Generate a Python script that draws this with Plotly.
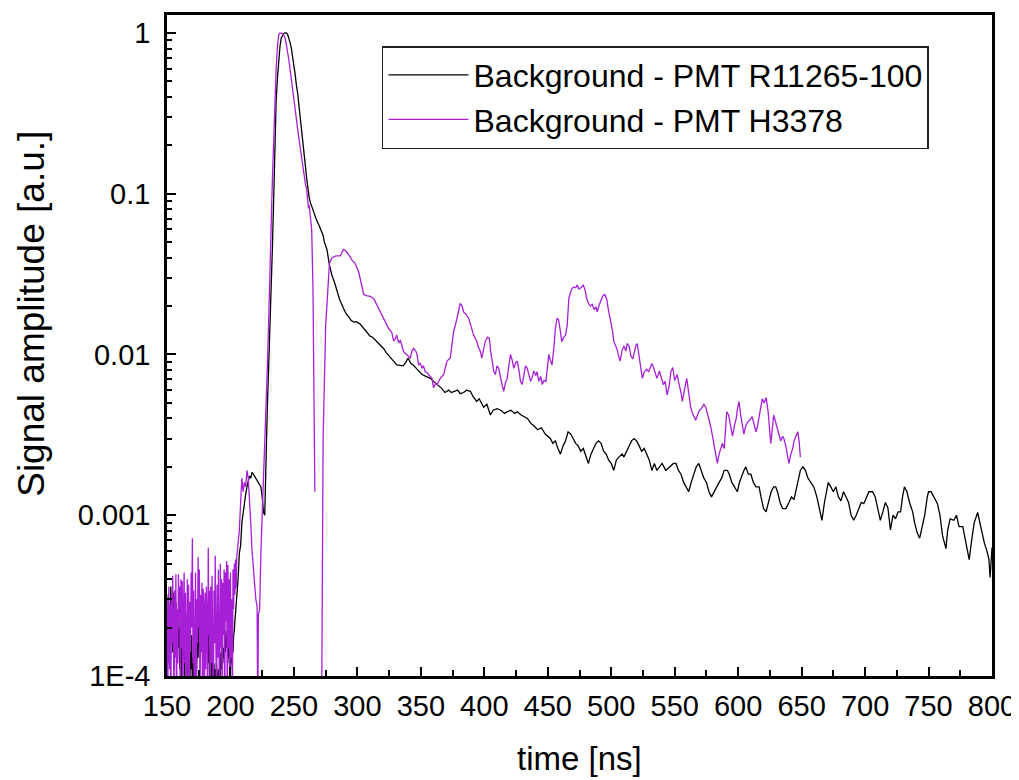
import plotly.graph_objects as go

# ---------------- data ----------------
# early, noisy part (150 - 204.5 ns) sampled every 0.5 ns
t_noise = [150, 150.5, 151, 151.5, 152, 152.5, 153, 153.5, 154, 154.5, 155, 155.5, 156, 156.5, 157, 157.5, 158, 158.5, 159, 159.5,
           160, 160.5, 161, 161.5, 162, 162.5, 163, 163.5, 164, 164.5, 165, 165.5, 166, 166.5, 167, 167.5, 168, 168.5, 169, 169.5,
           170, 170.5, 171, 171.5, 172, 172.5, 173, 173.5, 174, 174.5, 175, 175.5, 176, 176.5, 177, 177.5, 178, 178.5, 179, 179.5,
           180, 180.5, 181, 181.5, 182, 182.5, 183, 183.5, 184, 184.5, 185, 185.5, 186, 186.5, 187, 187.5, 188, 188.5, 189, 189.5,
           190, 190.5, 191, 191.5, 192, 192.5, 193, 193.5, 194, 194.5, 195, 195.5, 196, 196.5, 197, 197.5, 198, 198.5, 199, 199.5,
           200, 200.5, 201, 201.5, 202, 202.5, 203, 203.5, 204, 204.5]
a_noise_r11265 = [2.5e-4, 1.6e-4, 3.2e-4, 1.2e-4, 2.6e-4, 1.8e-4, 3.6e-4, 2.3e-4, 3.0e-4, 1.4e-4, 3.3e-4, 1.1e-4, 2.7e-4, 1.5e-4, 2.9e-4, 1.9e-4, 1.2e-4, 2.4e-4, 1.5e-4, 2.0e-4,
                  1.1e-4, 2.3e-4, 8e-5, 1.7e-4, 1.0e-4, 1.9e-4, 1.3e-4, 2.2e-4, 9e-5, 1.6e-4, 2.4e-4, 1.2e-4, 1.8e-4, 8e-5, 1.4e-4, 2.0e-4, 9e-5, 1.5e-4, 1.1e-4, 1.8e-4,
                  7e-5, 1.3e-4, 1.0e-4, 1.6e-4, 7e-5, 1.2e-4, 8e-5, 1.5e-4, 1.9e-4, 1.3e-4, 2.2e-4, 1.5e-4, 2.9e-4, 1.8e-4, 3.1e-4, 2.4e-4, 2.9e-4, 2.1e-4, 2.8e-4, 1.9e-4,
                  2.6e-4, 1.7e-4, 2.5e-4, 1.4e-4, 2.2e-4, 1.2e-4, 1.8e-4, 1.0e-4, 1.5e-4, 8e-5, 1.3e-4, 1.0e-4, 1.4e-4, 9e-5, 1.2e-4, 7e-5, 1.1e-4, 8e-5, 1.2e-4, 9e-5,
                  7e-5, 1.1e-4, 8e-5, 1.2e-4, 1.0e-4, 1.4e-4, 1.1e-4, 1.6e-4, 1.2e-4, 1.5e-4, 1.3e-4, 1.7e-4, 1.4e-4, 1.9e-4, 1.5e-4, 1.7e-4, 1.3e-4, 1.6e-4, 1.2e-4, 1.4e-4,
                  1.1e-4, 1.3e-4, 1.2e-4, 1.6e-4, 1.4e-4, 1.8e-4, 1.9e-4, 2.2e-4, 2.5e-4, 2.7e-4]
a_noise_h3378 = [3.0e-4, 5e-5, 2.2e-4, 3.6e-4, 1.1e-4, 2.8e-4, 4e-5, 3.2e-4, 1.6e-4, 4.2e-4, 2.0e-4, 6e-5, 3.4e-4, 1.3e-4, 4.3e-4, 5e-5, 2.6e-4, 1.2e-4, 4.3e-4, 2.2e-4,
                 3.6e-4, 5e-5, 4.0e-4, 1.5e-4, 3.9e-4, 4e-5, 2.7e-4, 4.4e-4, 1.2e-4, 3.3e-4, 6e-5, 2.2e-4, 4.0e-4, 1.0e-4, 3.7e-4, 5e-5, 2.9e-4, 1.4e-4, 4.4e-4, 2.0e-4,
                 7.2e-4, 1.2e-4, 3.4e-4, 5e-5, 2.4e-4, 4.4e-4, 6e-5, 3.0e-4, 1.6e-4, 5.5e-4, 2.0e-4, 4.6e-4, 5e-5, 3.2e-4, 1.4e-4, 3.8e-4, 5e-5, 3.5e-4, 2.7e-4, 5e-5,
                 3.3e-4, 1.1e-4, 3.6e-4, 2.4e-4, 5e-5, 6.3e-4, 1.8e-4, 3.4e-4, 5e-5, 3.6e-4, 1.2e-4, 4.2e-4, 2.4e-4, 5e-5, 3.4e-4, 1.6e-4, 5.6e-4, 2.0e-4, 5e-5, 3.7e-4,
                 1.3e-4, 4.6e-4, 2.6e-4, 5e-5, 5.0e-4, 1.5e-4, 4.0e-4, 5e-5, 3.8e-4, 1.8e-4, 4.6e-4, 5e-5, 4.4e-4, 2.2e-4, 5.2e-4, 5e-5, 4.9e-4, 1.5e-4, 4.0e-4, 5e-5,
                 4.4e-4, 1.3e-4, 3.0e-4, 5e-5, 4.6e-4, 2.6e-4, 5.0e-4, 3.2e-4, 5.3e-4, 3.5e-4]

# R11265-100 from 205 ns on
t_r11265 = [205, 206, 207, 208, 209,
            210, 211, 212, 213, 214, 215, 216, 217, 218, 219, 220, 221, 222, 223, 224, 225, 226, 227, 228, 229,
            230, 231, 232, 233, 234, 235, 236, 237, 238, 239, 240, 241, 242, 243, 244, 245, 246, 247, 248, 249,
            250, 251, 252, 253, 254, 255, 256, 257, 258, 259, 260, 261, 262, 263, 264, 265, 266, 267, 268, 270,
            272, 273, 274, 276, 278, 280, 282, 284, 286, 289, 291, 293, 295, 297, 299, 302, 305, 307.5, 310, 312,
            315, 318, 320.6, 323, 325, 327, 329, 331, 334, 336, 338, 340, 342, 344, 347, 349, 351, 354, 357.5, 360,
            362.8, 366, 369, 372, 374, 376, 379, 381, 383.7, 386, 389, 391, 394, 396, 399.5, 402, 404.8, 407, 410, 413,
            416, 418, 421, 424, 426, 429, 432, 434, 437, 439, 442, 445, 448, 450, 452, 454, 456, 458, 460, 462,
            464, 466, 468, 470, 472, 474, 476, 478, 480, 482, 484, 486, 488, 490, 492, 494, 496, 498, 500, 502,
            504, 506, 508.6, 510, 512, 514, 516, 518, 520, 522, 524, 526, 528, 530, 532, 534, 536, 538, 540, 543,
            546, 549, 551, 553, 555, 557, 559, 561, 563, 565, 567, 569, 571, 573, 575, 577, 579, 581, 583, 585,
            587, 589, 591.5, 593, 595, 597, 599.4, 601, 603, 604.5, 606, 608, 610, 612, 614, 616.5, 618, 620, 622, 624,
            626, 628, 629.6, 631, 633, 635, 637.6, 640, 642, 644, 646, 648, 649, 651, 653, 655, 657, 659.6, 662, 664,
            666, 668, 671, 673, 675, 677, 679, 681, 683, 685, 687, 689, 691, 693, 695, 697, 699, 701, 703, 706,
            708, 710, 712, 714, 716, 718, 720, 722, 724, 726, 728, 729.5, 731, 733, 735, 737.5, 739, 741, 743, 745,
            747, 749, 750, 752, 754, 757, 759, 761, 763.7, 765, 767, 770, 772, 774, 777, 779, 782, 784, 786, 788.7,
            790, 792, 794, 796, 797.6, 798.5, 800]
a_r11265 = [2.9e-4, 4.0e-4, 5.8e-4, 6.5e-4, 9.0e-4,
            1.05e-3, 1.2e-3, 1.35e-3, 1.5e-3, 1.6e-3, 1.75e-3, 1.7e-3, 1.85e-3, 1.8e-3, 1.75e-3, 1.7e-3, 1.65e-3, 1.6e-3, 1.55e-3, 1.5e-3, 1.3e-3, 1.05e-3, 1.0e-3, 2.5e-3, 4.5e-3,
            8e-3, 0.014, 0.02, 0.045, 0.09, 0.22, 0.38, 0.52, 0.68, 0.82, 0.93, 0.97, 0.99, 1.0, 1.0, 0.98, 0.93, 0.87, 0.8, 0.72,
            0.62, 0.55, 0.47, 0.42, 0.35, 0.3, 0.25, 0.22, 0.18, 0.15, 0.125, 0.107, 0.095, 0.088, 0.083, 0.08, 0.075, 0.072, 0.068, 0.063,
            0.058, 0.055, 0.05, 0.045, 0.036, 0.031, 0.028, 0.025, 0.022, 0.0194, 0.018, 0.0172, 0.0163, 0.0159, 0.016, 0.0155, 0.0145, 0.0138, 0.013, 0.0128,
            0.0121, 0.0113, 0.0109, 0.0102, 0.0098, 0.0095, 0.009, 0.0086, 0.0085, 0.0085, 0.0089, 0.0095, 0.0088, 0.0086, 0.0081, 0.0078, 0.0075, 0.0073, 0.0071, 0.0068,
            0.0065, 0.0062, 0.0058, 0.006, 0.0058, 0.0059, 0.006, 0.0057, 0.0058, 0.006, 0.0059, 0.0055, 0.0051, 0.0053, 0.0047, 0.0049, 0.0042, 0.0045, 0.0046, 0.0045,
            0.0043, 0.0044, 0.0045, 0.0043, 0.0044, 0.0042, 0.0041, 0.004, 0.0037, 0.0036, 0.0034, 0.0035, 0.0032, 0.0031, 0.003, 0.0028, 0.0029, 0.0026, 0.0024, 0.0027,
            0.0029, 0.0033, 0.0032, 0.003, 0.0028, 0.0027, 0.0025, 0.0026, 0.0023, 0.0021, 0.0024, 0.0026, 0.0028, 0.0029, 0.0028, 0.0025, 0.0024, 0.0022, 0.0021, 0.0019,
            0.0022, 0.0023, 0.0024, 0.0023, 0.0025, 0.0027, 0.0029, 0.003, 0.0029, 0.0027, 0.0025, 0.0026, 0.0024, 0.0022, 0.0019, 0.0021, 0.0019, 0.002, 0.0021, 0.0019,
            0.002, 0.0021, 0.0021, 0.0019, 0.0018, 0.0016, 0.0015, 0.0014, 0.0016, 0.0018, 0.002, 0.0021, 0.0019, 0.0017, 0.0016, 0.0014, 0.0013, 0.0014, 0.0015, 0.0016,
            0.0017, 0.0019, 0.0019, 0.0018, 0.0016, 0.0015, 0.0014, 0.0016, 0.0018, 0.0019, 0.002, 0.0018, 0.0018, 0.0016, 0.0015, 0.0015, 0.0013, 0.0011, 0.00105, 0.0012,
            0.0014, 0.0015, 0.0015, 0.0014, 0.0012, 0.0011, 0.0011, 0.0012, 0.0013, 0.00125, 0.0015, 0.0018, 0.0019, 0.002, 0.0019, 0.0017, 0.0016, 0.0015, 0.0013, 0.0011,
            0.00093, 0.0012, 0.0016, 0.0015, 0.0014, 0.0015, 0.0013, 0.00123, 0.0014, 0.0013, 0.0012, 0.001, 0.00093, 0.001, 0.0011, 0.0012, 0.00118, 0.0013, 0.0014, 0.0014,
            0.0013, 0.0011, 0.00093, 0.00105, 0.0012, 0.00111, 0.00081, 0.001, 0.00095, 0.00105, 0.00105, 0.0013, 0.0015, 0.0014, 0.0012, 0.00105, 0.0009, 0.00078, 0.00072, 0.00085,
            0.001, 0.0013, 0.0014, 0.0014, 0.0013, 0.00118, 0.001, 0.00075, 0.00062, 0.0008, 0.00095, 0.00093, 0.001, 0.00085, 0.00085, 0.0007, 0.00053, 0.0007, 0.0009, 0.00104,
            0.00093, 0.0008, 0.00067, 0.0006, 0.00053, 0.00041, 0.00063]

# H3378 from 205 ns on (None = no positive sample, gap on the log axis)
t_h3378 = [205, 206, 207, 208, 209, 210, 211, 212, 213, 214, 215, 216, 217, 218, 219, 220, 221, 221.5, 222,
           223, 224, 225, 226, 227, 228, 229, 230, 231, 232, 233, 234, 235, 236, 237, 238, 239, 240, 241, 242,
           243, 244, 245, 246, 247, 248, 249, 250, 251, 252, 253, 254, 255, 256, 257, 258, 259, 260, 261, 261.5,
           262, 263, 264, 265, 266.5, 267, 271.8, 273, 275, 276.5, 278, 280, 283, 286.5, 289, 291, 293, 295.7, 298, 301,
           303.6, 305, 307, 310, 312.8, 314.5, 316.7, 318.5, 320.6, 322.5, 324.6, 327, 328.6, 330, 331, 332.5, 333.8, 336.4, 339, 340.5,
           341.7, 343, 344.3, 346, 347, 348.2, 349.5, 351, 352, 353.5, 355, 356, 357.5, 358.8, 360, 361.5, 362.8, 364, 365.3, 368,
           369.5, 370.6, 373.2, 375.8, 378.5, 380, 381, 382.5, 383.7, 385.5, 387.6, 389.5, 391.6, 393, 394, 395.5, 397, 398, 399.5, 400.8,
           402.5, 404, 405, 406, 407.5, 408.7, 410, 411.3, 412.5, 414, 415.3, 416.5, 418, 419.5, 420.6, 422, 423.2, 424.5, 426, 427.5,
           428.5, 429.8, 431, 432.5, 433.8, 435, 436.5, 437.7, 439, 440.5, 441.6, 443, 444.5, 445.6, 447, 448.5, 449.5, 450.8, 452, 453.4,
           455, 456, 457.3, 458.5, 460, 461, 462.5, 464, 465.3, 466.6, 468, 469.2, 470.5, 472, 473.2, 474.5, 476, 478, 479.5, 480.5,
           482, 483.5, 485, 486.5, 488, 489, 490.5, 492, 493.5, 495, 496.5, 497.5, 498.5, 499.5, 501, 502, 503.4, 504.5, 506, 507,
           508.5, 510, 511.5, 512.6, 514, 515.5, 517, 518.5, 519.5, 520.5, 522, 523, 524.5, 526, 528, 529.5, 531, 532, 533.5, 535,
           536, 538, 539.5, 541, 542.5, 544, 545.5, 547, 548.5, 550, 551, 552, 553.5, 555, 556, 557.5, 558.5, 559.5, 561, 562.6,
           564, 565, 566.5, 568, 569.5, 571, 573, 574.5, 576, 577.5, 578.6, 580, 581.5, 582.5, 583.6, 585, 586, 587.5, 589, 590,
           591, 592.5, 594, 595.5, 597, 598.5, 599.5, 600.7, 602, 603.5, 604.5, 606, 607.5, 609, 611, 612.5, 614, 615, 616.5, 618,
           619, 620.5, 622, 623.5, 624.5, 625.7, 627, 628, 629.5, 631, 632, 633.5, 635, 636, 637.5, 638.5, 640, 641.5, 643, 644,
           645.5, 647, 648, 649]
a_h3378 = [5.6e-4, 6.5e-4, 8e-4, 1.2e-3, 1.7e-3, 1.4e-3, 1.6e-3, 1.5e-3, 1.9e-3, 1.7e-3, 1.3e-3, 9e-4, 6e-4, 4.5e-4, 3.7e-4, 3.0e-4, 2.7e-4, 5e-5, 2.4e-4,
           2.6e-4, 6e-4, 9.7e-4, 2.0e-3, 3.2e-3, 4.5e-3, 8e-3, 0.015, 0.026, 0.06, 0.12, 0.2, 0.4, 0.6, 0.82, 0.97, 1.0, 1.0, 0.99, 0.97,
           0.93, 0.85, 0.77, 0.68, 0.59, 0.52, 0.45, 0.39, 0.335, 0.29, 0.25, 0.22, 0.19, 0.16, 0.14, 0.125, 0.115, 0.107, 0.09, 0.081,
           0.085, 0.074, 0.06, 0.026, 0.0014, None, 5e-5, 0.003, 0.015, 0.025, 0.037, 0.04, 0.041, 0.041, 0.045, 0.044, 0.042, 0.0386, 0.037, 0.0327,
           0.027, 0.0236, 0.0232, 0.023, 0.0223, 0.021, 0.0194, 0.018, 0.0168, 0.0155, 0.0145, 0.0138, 0.0121, 0.0126, 0.0132, 0.0118, 0.0123, 0.0104, 0.01, 0.0097,
           0.0095, 0.0105, 0.0109, 0.0105, 0.01, 0.0086, 0.0088, 0.0082, 0.0085, 0.0078, 0.0077, 0.0075, 0.0073, 0.0071, 0.0062, 0.0066, 0.0065, 0.0068, 0.0071, 0.0075,
           0.0083, 0.0091, 0.0095, 0.0138, 0.0168, 0.019, 0.0208, 0.02, 0.0184, 0.0178, 0.0168, 0.015, 0.0132, 0.0126, 0.0121, 0.011, 0.0104, 0.0095, 0.0106, 0.0121,
           0.0128, 0.0126, 0.0105, 0.0091, 0.0078, 0.0075, 0.0085, 0.0082, 0.0072, 0.0065, 0.0059, 0.0066, 0.0071, 0.0088, 0.01, 0.0092, 0.0082, 0.0088, 0.0091, 0.0078,
           0.0068, 0.0065, 0.0075, 0.0085, 0.0082, 0.0074, 0.0068, 0.0072, 0.0079, 0.0074, 0.0078, 0.0068, 0.0073, 0.0065, 0.0069, 0.0068, 0.0085, 0.01, 0.0092, 0.0086,
           0.0115, 0.0145, 0.0168, 0.0165, 0.0138, 0.012, 0.0128, 0.0132, 0.0152, 0.0223, 0.0245, 0.0258, 0.0263, 0.026, 0.027, 0.0255, 0.026, 0.027, 0.025, 0.0225,
           0.0209, 0.02, 0.0205, 0.019, 0.0198, 0.0184, 0.0203, 0.0215, 0.0232, 0.0236, 0.022, 0.0195, 0.0177, 0.0165, 0.014, 0.0121, 0.0115, 0.0108, 0.0097, 0.0091,
           0.0106, 0.0113, 0.0105, 0.0117, 0.0113, 0.0098, 0.0094, 0.0108, 0.0114, 0.0117, 0.0095, 0.0082, 0.0071, 0.0078, 0.0081, 0.0078, 0.0085, 0.0088, 0.0082, 0.0075,
           0.0071, 0.0079, 0.0072, 0.0065, 0.0068, 0.0056, 0.0063, 0.0078, 0.0083, 0.0069, 0.0072, 0.0075, 0.0065, 0.0058, 0.0051, 0.006, 0.0065, 0.0071, 0.0058, 0.0047,
           0.0043, 0.0041, 0.0039, 0.0042, 0.0045, 0.0046, 0.0049, 0.0047, 0.0043, 0.0038, 0.0035, 0.003, 0.0026, 0.0023, 0.0021, 0.0024, 0.0026, 0.0028, 0.0026, 0.0035,
           0.0044, 0.0042, 0.0036, 0.0031, 0.0036, 0.004, 0.0046, 0.0051, 0.0042, 0.0035, 0.0032, 0.0036, 0.0038, 0.0039, 0.0041, 0.0037, 0.0033, 0.0035, 0.0042, 0.0049,
           0.0053, 0.005, 0.0054, 0.0045, 0.0036, 0.0028, 0.0035, 0.0042, 0.0038, 0.0034, 0.0032, 0.0029, 0.0031, 0.003, 0.0027, 0.0024, 0.0021, 0.0024, 0.0026, 0.0029,
           0.0031, 0.0033, 0.0029, 0.0023]

series_names = ["Background - PMT R11265-100", "Background - PMT H3378"]
series_colors = ["#000000", "#A81FD8"]

x_ticks = [150, 200, 250, 300, 350, 400, 450, 500, 550, 600, 650, 700, 750, 800]
y_tickvals = [1e-4, 1e-3, 1e-2, 1e-1, 1]
y_ticktext = ["1E-4", "0.001", "0.01", "0.1", "1"]
y_minor = [m * 10 ** e for e in range(-4, 1) for m in range(2, 10)]

FONT = "Liberation Sans, Arial, sans-serif"

fig = go.Figure()
fig.add_trace(go.Scatter(x=t_noise + t_r11265, y=a_noise_r11265 + a_r11265, mode="lines", name=series_names[0],
                         line=dict(color=series_colors[0], width=1.3), connectgaps=False))
fig.add_trace(go.Scatter(x=t_noise + t_h3378, y=a_noise_h3378 + a_h3378, mode="lines", name=series_names[1],
                         line=dict(color=series_colors[1], width=1.3), connectgaps=False))

x_range = [150, 800]
y_range = [-4, 0.1115]

fig.update_layout(
    width=1019, height=780,
    margin=dict(l=159, r=35, t=4, b=112),
    paper_bgcolor="white", plot_bgcolor="white",
    font=dict(family=FONT, color="black", size=26),
    showlegend=True,
    legend=dict(x=0.2606, y=0.953, xanchor="left", yanchor="top",
                bordercolor="#222222", borderwidth=1.5, bgcolor="white",
                font=dict(size=32, family=FONT), itemwidth=80, tracegroupgap=0),
    xaxis=dict(range=x_range, tickmode="array", tickvals=x_ticks, ticks="inside", ticklen=9, tickwidth=2,
               tickcolor="black", showline=True, linecolor="black", linewidth=2.5, mirror=True,
               showgrid=False, zeroline=False, tickfont=dict(size=29), ticklabelstandoff=2,
               minor=dict(dtick=25, tick0=150, ticks="inside", ticklen=6, tickwidth=2, tickcolor="black", showgrid=False)),
    yaxis=dict(type="log", range=y_range, tickmode="array", tickvals=y_tickvals, ticktext=y_ticktext,
               ticks="inside", ticklen=9, tickwidth=2, tickcolor="black",
               showline=True, linecolor="black", linewidth=2.5, mirror=True,
               showgrid=False, zeroline=False, tickfont=dict(size=29), ticklabelstandoff=8,
               minor=dict(tickmode="array", tickvals=y_minor, ticks="inside", ticklen=5, tickwidth=2,
                          tickcolor="black", showgrid=False)),
    xaxis2=dict(range=x_range, overlaying="x", side="top", tickmode="array", tickvals=x_ticks,
                ticks="inside", ticklen=12, tickwidth=2.5, tickcolor="black", showticklabels=False,
                showgrid=False, zeroline=False, showline=False),
    yaxis2=dict(type="log", range=y_range, overlaying="y", side="right", tickmode="array", tickvals=y_tickvals,
                ticks="inside", ticklen=12, tickwidth=2.5, tickcolor="black", showticklabels=False,
                showgrid=False, zeroline=False, showline=False),
    annotations=[
        dict(text="time [ns]", xref="paper", yref="paper", x=0.5, y=-0.1245, xanchor="center", yanchor="middle",
             showarrow=False, font=dict(size=33, family=FONT)),
        dict(text="Signal amplitude [a.u.]", xref="paper", yref="paper", x=-0.1636, y=0.548,
             xanchor="center", yanchor="middle", textangle=-90, showarrow=False, font=dict(size=37, family=FONT)),
    ],
)

fig.write_html("out.html")
